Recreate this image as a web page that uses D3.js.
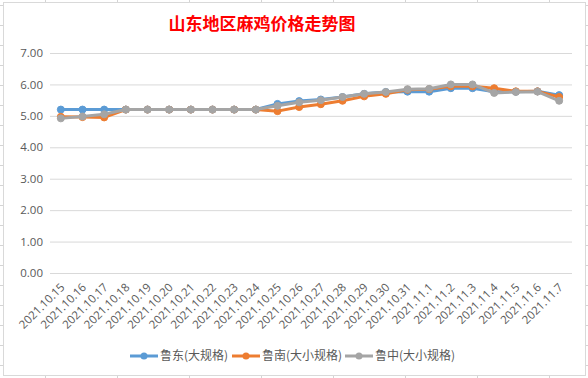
<!DOCTYPE html>
<html>
<head>
<meta charset="utf-8">
<script src="https://cdn.jsdelivr.net/npm/d3@7"></script>
<style>
  body { margin: 0; background: #fff; }
  svg { display: block; }
</style>
</head>
<body>
<div id="chart"></div>
<script>
var width = 588, height = 378;

// chart data
var dates = ["2021.10.15", "2021.10.16", "2021.10.17", "2021.10.18", "2021.10.19", "2021.10.20",
  "2021.10.21", "2021.10.22", "2021.10.23", "2021.10.24", "2021.10.25", "2021.10.26",
  "2021.10.27", "2021.10.28", "2021.10.29", "2021.10.30", "2021.10.31", "2021.11.1",
  "2021.11.2", "2021.11.3", "2021.11.4", "2021.11.5", "2021.11.6", "2021.11.7"];
var seriesNames = ["鲁东(大规格)", "鲁南(大小规格)", "鲁中(大小规格)"];
var ludong = [5.2, 5.2, 5.2, 5.2, 5.2, 5.2, 5.2, 5.2, 5.2, 5.2, 5.38, 5.47, 5.52, 5.6, 5.7, 5.76,
  5.77, 5.77, 5.88, 5.88, 5.77, 5.77, 5.78, 5.66];
var lunan = [4.97, 4.96, 4.95, 5.2, 5.2, 5.2, 5.2, 5.2, 5.2, 5.2, 5.15, 5.28, 5.37, 5.48, 5.62, 5.7,
  5.83, 5.85, 5.94, 5.94, 5.88, 5.78, 5.78, 5.6];
var luzhong = [4.92, 4.98, 5.05, 5.2, 5.2, 5.2, 5.2, 5.2, 5.2, 5.2, 5.32, 5.43, 5.5, 5.6, 5.7, 5.76,
  5.85, 5.86, 6.0, 6.0, 5.73, 5.76, 5.77, 5.48];
var yTicks = [0, 1, 2, 3, 4, 5, 6, 7];
var colors = ["#5B9BD5", "#ED7D31", "#A5A5A5"];

var svg = d3.select('#chart')
  .append('svg')
  .attr('width', width)
  .attr('height', height);

// spreadsheet cells behind the chart
var sheet = svg.append('g').attr('stroke', '#d4d4d4').attr('stroke-width', 1);
d3.range(45, width, 72).forEach(function(x){
  sheet.append('line').attr('x1', x + 0.5).attr('x2', x + 0.5).attr('y1', 0).attr('y2', height);
});
d3.range(5, height, 20).forEach(function(y){
  sheet.append('line').attr('x1', 0).attr('x2', width).attr('y1', y + 0.5).attr('y2', y + 0.5);
});

// chart area
svg.append('rect')
  .attr('x', 3.5).attr('y', 2.5)
  .attr('width', 582).attr('height', 373)
  .attr('fill', '#fff')
  .attr('stroke', '#d9d9d9');

svg.append('text')
  .attr('x', 262)
  .attr('y', 30)
  .attr('text-anchor', 'middle')
  .attr('font-family', '"Noto Sans CJK SC", sans-serif')
  .attr('font-weight', 'bold')
  .attr('font-size', 17)
  .attr('fill', '#ff0000')
  .text('山东地区麻鸡价格走势图');

var x = d3.scalePoint()
  .domain(dates)
  .range([50, 570])
  .padding(0.5);

var y = d3.scaleLinear()
  .domain([0, 7])
  .range([273, 53]);

// gridlines + y labels
var yAxis = d3.axisLeft(y)
  .tickValues(yTicks)
  .tickSize(-522)
  .tickPadding(7)
  .tickFormat(d3.format('.2f'));

var gy = svg.append('g')
  .attr('transform', 'translate(50,0)')
  .call(yAxis);
gy.select('.domain').remove();
gy.selectAll('.tick line').attr('stroke', '#d9d9d9');
gy.selectAll('.tick text')
  .attr('fill', '#595959')
  .attr('font-family', '"Open Sans", "Noto Sans", sans-serif')
  .attr('font-size', 11.5);

// x labels, rotated
var xAxis = d3.axisBottom(x).tickSize(0).tickPadding(0);
var gx = svg.append('g')
  .attr('transform', 'translate(0,273)')
  .call(xAxis);
gx.select('.domain').remove();
gx.selectAll('.tick text')
  .attr('fill', '#595959')
  .attr('font-family', '"Open Sans", "Noto Sans", sans-serif')
  .attr('font-size', 11.5)
  .attr('text-anchor', 'end')
  .attr('dy', 0)
  .attr('transform', 'translate(4,15) rotate(-45)');

var series = [ludong, lunan, luzhong];

var line = d3.line()
  .x(function(d, i){ return x(dates[i]) })
  .y(function(d){ return y(d) });

series.forEach(function(values, k){
  var g = svg.append('g');
  g.append('path')
    .datum(values)
    .attr('fill', 'none')
    .attr('stroke', colors[k])
    .attr('stroke-width', 3)
    .attr('stroke-linejoin', 'round')
    .attr('d', line);
  g.selectAll('circle')
    .data(values)
    .enter()
    .append('circle')
    .attr('cx', function(d, i){ return x(dates[i]) })
    .attr('cy', function(d){ return y(d) })
    .attr('r', 3.5)
    .attr('fill', colors[k])
    .attr('stroke', colors[k]);
});

// legend
var legendX = [130, 232, 345];
var legend = svg.selectAll('.legend')
  .data(seriesNames)
  .enter()
  .append('g')
  .attr('class', 'legend')
  .attr('transform', function(d, i){ return 'translate(' + legendX[i] + ',356)' });
legend.append('line')
  .attr('x1', 0).attr('x2', 28)
  .attr('stroke', function(d, i){ return colors[i] })
  .attr('stroke-width', 3);
legend.append('circle')
  .attr('cx', 14).attr('r', 3.5)
  .attr('fill', function(d, i){ return colors[i] });
legend.append('text')
  .attr('x', 30)
  .attr('dy', '0.35em')
  .attr('fill', '#595959')
  .attr('font-family', '"Noto Sans CJK SC", sans-serif')
  .attr('font-size', 12)
  .text(function(d){ return d });
</script>
</body>
</html>
